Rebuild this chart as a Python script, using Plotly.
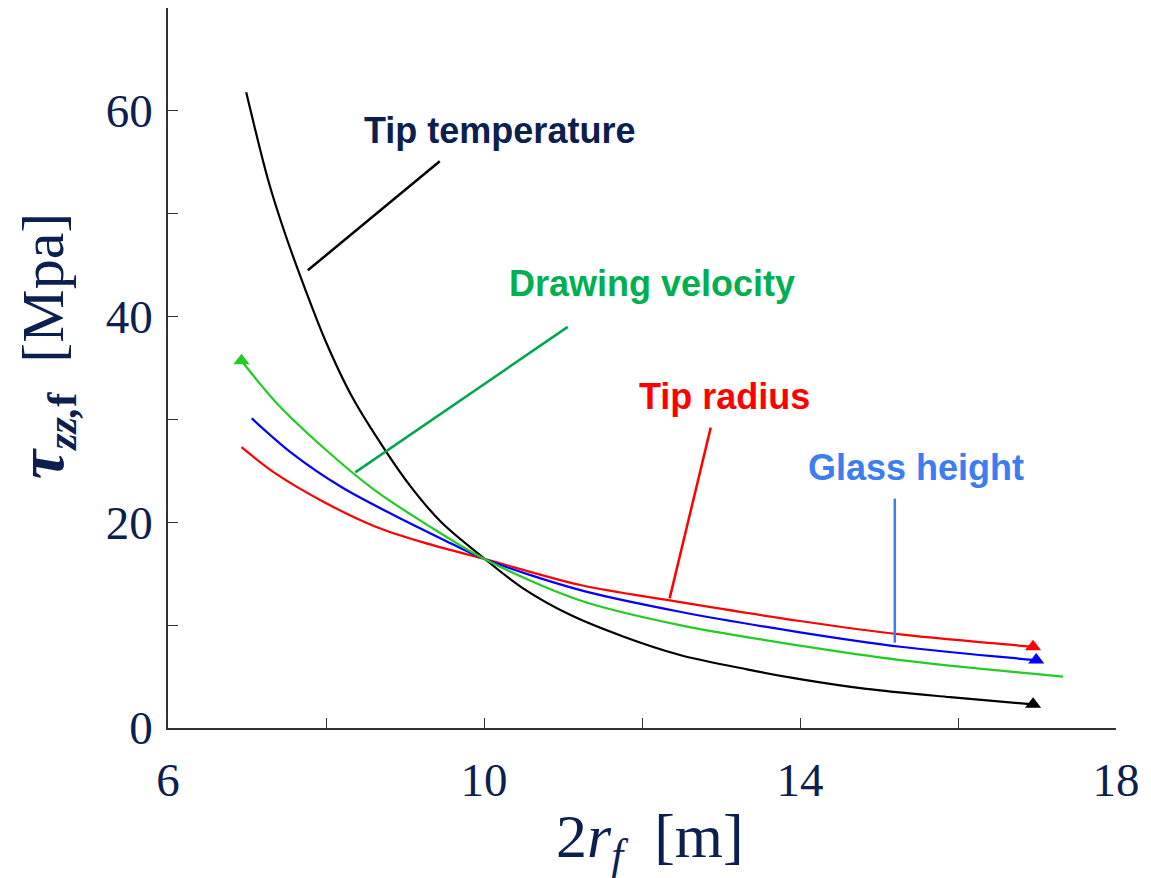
import plotly.graph_objects as go

# Normal stress at the fibre versus fibre diameter, for four process parameters
temp_x = [6.99, 7.27, 7.48, 7.73, 7.99, 8.33, 8.75, 9.08, 9.46, 10.0, 10.49, 11.09, 11.76, 12.48, 13.33, 14.0, 14.84, 15.9, 16.95]
temp_y = [61.8, 53.2, 48.1, 42.8, 37.7, 32.2, 27.0, 23.4, 20.0, 16.5, 13.6, 11.0, 8.9, 7.1, 5.7, 4.75, 3.8, 3.0, 2.3]

radius_x = [6.93, 7.35, 7.99, 8.62, 9.25, 10.0, 11.22, 12.35, 14.0, 15.27, 16.95]
radius_y = [27.3, 24.8, 21.9, 19.6, 18.0, 16.45, 13.9, 12.4, 10.4, 9.1, 7.9]

height_x = [7.06, 7.57, 8.2, 8.83, 9.46, 10.0, 11.22, 12.48, 14.0, 15.27, 16.99]
height_y = [30.1, 26.7, 23.4, 20.8, 18.4, 16.45, 13.4, 11.3, 9.3, 7.9, 6.6]

velocity_x = [6.93, 7.35, 7.99, 8.62, 9.25, 10.0, 11.22, 12.48, 14.0, 15.27, 17.33]
velocity_y = [35.7, 31.8, 27.1, 23.1, 19.9, 16.45, 12.4, 10.0, 8.0, 6.6, 5.0]

x_ticks = [6, 10, 14, 18]
y_ticks = [0, 20, 40, 60]

NAVY = "#0C2050"
SERIF = "Liberation Serif"
SANS = "Liberation Sans"

fig = go.Figure()

curves = [
    (temp_x, temp_y, "#000000", -1),
    (radius_x, radius_y, "#FF0000", -1),
    (height_x, height_y, "#0000FF", -1),
    (velocity_x, velocity_y, "#22CC22", 0),
]
for xs, ys, color, tip in curves:
    fig.add_trace(go.Scatter(x=xs, y=ys, mode="lines",
                             line=dict(color=color, width=2.2, shape="spline", smoothing=0.9),
                             showlegend=False, hoverinfo="skip"))
    # triangle marking the end of each curve
    fig.add_trace(go.Scatter(x=[xs[tip]], y=[ys[tip]], mode="markers",
                             marker=dict(symbol="triangle-up", size=14, color=color),
                             showlegend=False, hoverinfo="skip"))

# curve labels with leader lines
labels = [
    ("Tip temperature", NAVY, 10.19, 58.1, "#000000", (7.77, 44.5, 9.44, 55.1)),
    ("Drawing velocity", "#00B050", 12.13, 43.2, "#00A550", (8.37, 24.85, 11.06, 39.0)),
    ("Tip radius", "#FF0000", 13.05, 32.2, "#FF0000", (12.35, 12.6, 12.87, 29.2)),
    ("Glass height", "#3C7DF0", 15.47, 25.3, "#3C7DF0", (15.2, 8.3, 15.2, 22.3)),
]
for text, tcolor, tx, ty, lcolor, (x0, y0, x1, y1) in labels:
    fig.add_annotation(x=tx, y=ty, text=f"<b>{text}</b>", showarrow=False,
                       font=dict(family=SANS, size=36, color=tcolor), xanchor="center", yanchor="middle")
    fig.add_shape(type="line", x0=x0, y0=y0, x1=x1, y1=y1, line=dict(color=lcolor, width=2.5))

# axis titles
fig.add_annotation(xref="paper", yref="paper", x=0.508, y=-0.156,
                   text="2<i>r</i><sub><i>f</i></sub>  [m]", showarrow=False,
                   font=dict(family=SERIF, size=62, color=NAVY), xanchor="center", yanchor="middle")
fig.add_annotation(xref="paper", yref="paper", x=-0.13, y=0.53, textangle=-90,
                   text="<b><i><span style='font-size:66px'>τ</span></i></b><sub><b><i>zz,</i>f</b></sub>  [Mpa]",
                   showarrow=False,
                   font=dict(family=SERIF, size=60, color=NAVY), xanchor="center", yanchor="middle")

axis_common = dict(showgrid=False, zeroline=False, showline=True, linecolor="#333333", linewidth=1.5,
                   ticks="inside", ticklen=10, tickwidth=1.2, tickcolor="#333333",
                   tickfont=dict(family=SERIF, size=47, color=NAVY))

fig.update_xaxes(range=[6, 18], tickvals=x_ticks, ticktext=[str(v) for v in x_ticks],
                 minor=dict(ticks="inside", ticklen=10, tickwidth=1.2, tickcolor="#333333", dtick=2, tick0=6),
                 ticklabelstandoff=10, **axis_common)
fig.update_yaxes(range=[0, 70], tickvals=y_ticks, ticktext=[str(v) for v in y_ticks],
                 minor=dict(ticks="inside", ticklen=10, tickwidth=1.2, tickcolor="#333333", dtick=10, tick0=0),
                 ticklabelstandoff=4, **axis_common)

fig.update_layout(width=1151, height=878, margin=dict(l=168, r=35, t=8, b=150),
                  plot_bgcolor="white", paper_bgcolor="white")

fig.write_html("out.html")
